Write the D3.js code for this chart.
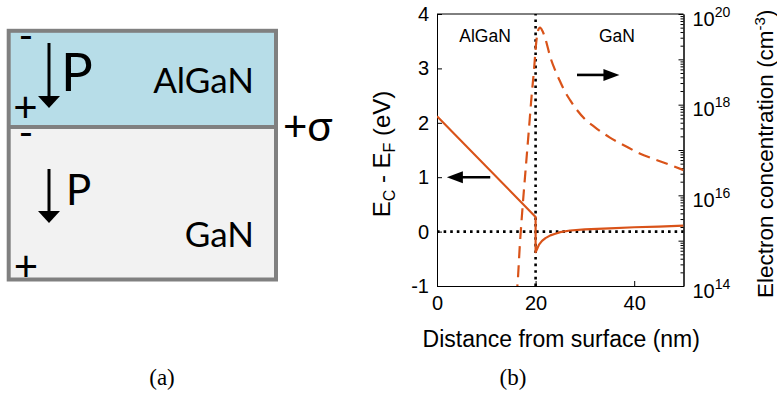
<!DOCTYPE html>
<html><head><meta charset="utf-8">
<script src="https://cdn.jsdelivr.net/npm/d3@7"></script>
<style>body{margin:0;background:#fff}svg{display:block}</style>
</head><body>
<script>
// ---------- data ----------
const xTicks = [0, 20, 40];
const yLeftTicks = [-1, 0, 1, 2, 3, 4];
const yRightLabelExps = [14, 16, 18, 20];
const interfaceX = 20;
// conduction band edge E_C - E_F (eV) vs distance (nm)
const bandX = [0, 20, 20, 20.3, 20.7, 21.3, 22, 23, 24, 25, 27, 30, 35, 40, 45, 50];
const bandE = [2.12, 0.27, -0.38, -0.32, -0.24, -0.17, -0.12, -0.07, -0.04, -0.01, 0.02, 0.04, 0.06, 0.08, 0.09, 0.11];
// electron concentration (cm^-3) vs distance (nm)
const concX = [16.0, 16.3, 16.8, 17.4, 18.0, 18.6, 19.2, 19.7, 20.1, 20.5, 20.9, 21.4, 22, 23, 24, 25, 26, 27, 28, 30, 32, 35, 38, 41, 44, 47, 50];
const concN = [6e13, 1.0e14, 7.9e14, 6.3e15, 4.0e16, 2.5e17, 1.6e18, 6.3e18, 2.2e19, 4.3e19, 5.0e19, 4.2e19, 2.8e19, 1.1e19, 5.6e18, 3.2e18, 1.9e18, 1.26e18, 8.7e17, 4.8e17, 3.2e17, 1.9e17, 1.26e17, 8.5e16, 6.3e16, 4.8e16, 3.6e16];

const orange = "#d95319";
const W = 777, H = 396;
const svg = d3.select("body").append("svg").attr("width", W).attr("height", H);
svg.append("rect").attr("width", W).attr("height", H).attr("fill", "#fff");

// ---------- panel (a) ----------
const A = svg.append("g");
const boxL = 8.7, boxR = 276, boxT = 30.8, boxB = 279.5, boxMid = 127;
A.append("rect").attr("x", boxL).attr("y", boxT).attr("width", boxR - boxL).attr("height", boxMid - boxT).attr("fill", "#b7dde8");
A.append("rect").attr("x", boxL).attr("y", boxMid).attr("width", boxR - boxL).attr("height", boxB - boxMid).attr("fill", "#f2f2f2");
A.append("rect").attr("x", boxL).attr("y", boxT).attr("width", boxR - boxL).attr("height", boxB - boxT)
  .attr("fill", "none").attr("stroke", "#808080").attr("stroke-width", 4);
A.append("line").attr("x1", boxL).attr("x2", boxR).attr("y1", boxMid).attr("y2", boxMid).attr("stroke", "#808080").attr("stroke-width", 4);

const fa = "Lato, 'Open Sans', sans-serif";
function arrowDown(x, y1, y2) {
  A.append("line").attr("x1", x).attr("x2", x).attr("y1", y1).attr("y2", y2 - 8).attr("stroke", "#000").attr("stroke-width", 3);
  A.append("path").attr("d", `M${x - 11},${y2 - 12}L${x + 11},${y2 - 12}L${x},${y2}Z`).attr("fill", "#000");
}
arrowDown(49, 43, 108);
arrowDown(49, 169, 223);
function txt(x, y, s, size, anchor) {
  return A.append("text").attr("x", x).attr("y", y).attr("font-family", fa).attr("font-size", size)
    .attr("text-anchor", anchor || "start").attr("fill", "#000").text(s);
}
txt(61, 91, "P", 53);
txt(66, 205, "P", 42);
txt(254, 93, "AlGaN", 35, "end");
txt(254, 247, "GaN", 35, "end");
txt(26, 50, "-", 40, "middle");
txt(26, 147, "-", 40, "middle");
txt(25.5, 122, "+", 42, "middle");
txt(26, 281, "+", 42, "middle");
txt(283, 141, "+σ", 42);

// captions
svg.append("text").attr("x", 162).attr("y", 385).attr("text-anchor", "middle")
  .attr("font-family", "'Liberation Serif', serif").attr("font-size", 23).text("(a)");
svg.append("text").attr("x", 513).attr("y", 385).attr("text-anchor", "middle")
  .attr("font-family", "'Liberation Serif', serif").attr("font-size", 23).text("(b)");

// ---------- panel (b) ----------
const fb = "'Liberation Sans', Arial, sans-serif";
const x = d3.scaleLinear([0, 50], [437, 683.5]);
const yL = d3.scaleLinear([-1, 4], [286, 14]);
const yR = d3.scaleLog([1e14, 1e20], [286, 14]);
const B = svg.append("g").attr("font-family", fb);

const clip = svg.append("defs").append("clipPath").attr("id", "plotclip");
clip.append("rect").attr("x", x(0)).attr("y", yL(4)).attr("width", x(50) - x(0)).attr("height", yL(-1) - yL(4));

// frame top line
B.append("line").attr("x1", x(0)).attr("x2", x(50)).attr("y1", yL(4)).attr("y2", yL(4)).attr("stroke", "#000");

// dotted reference lines
B.append("line").attr("x1", x(interfaceX)).attr("x2", x(interfaceX)).attr("y1", yL(-1)).attr("y2", yL(4))
  .attr("stroke", "#000").attr("stroke-width", 2.6).attr("stroke-dasharray", "2.6,4");
B.append("line").attr("x1", x(0)).attr("x2", x(50)).attr("y1", yL(0)).attr("y2", yL(0))
  .attr("stroke", "#000").attr("stroke-width", 2.6).attr("stroke-dasharray", "2.6,4");

// axes
B.append("g").attr("transform", `translate(0,${yL(-1)})`)
  .call(d3.axisBottom(x).tickValues(xTicks).tickSizeInner(-5).tickSizeOuter(0).tickPadding(10).tickFormat(d => String(d)));
B.append("g").attr("transform", `translate(${x(0)},0)`)
  .call(d3.axisLeft(yL).tickValues(yLeftTicks).tickSizeInner(-5).tickSizeOuter(0).tickPadding(8).tickFormat(d => String(d)));
const minorVals = [];
for (let e = 14; e < 20; e++) for (let m = 2; m <= 9; m++) minorVals.push(m * Math.pow(10, e));
const decadeVals = d3.range(14, 21).map(e => Math.pow(10, e));
B.append("g").attr("transform", `translate(${x(50)},0)`)
  .call(d3.axisRight(yR).tickValues(minorVals).tickSizeInner(-3).tickSizeOuter(0).tickFormat(() => ""));
const axR = B.append("g").attr("transform", `translate(${x(50)},0)`)
  .call(d3.axisRight(yR).tickValues(decadeVals).tickSizeInner(-5).tickSizeOuter(0).tickPadding(9).tickFormat(() => ""));
axR.selectAll(".tick text").each(function (d) {
  const e = Math.round(Math.log10(d));
  if (!yRightLabelExps.includes(e)) return;
  const t = d3.select(this).attr("dy", 11).attr("y", null);
  t.append("tspan").text("10");
  t.append("tspan").attr("dy", -9).attr("font-size", 14).text(String(e));
});
B.selectAll(".tick text").attr("font-size", 20).attr("font-family", fb).attr("fill", "#000");
axR.selectAll(".tick text tspan:last-child").attr("font-size", 14);
B.selectAll(".domain").attr("stroke", "#000");
B.selectAll(".tick line").attr("stroke", "#000");

// data lines
const gData = B.append("g").attr("clip-path", "url(#plotclip)");
gData.append("path").datum(concX.map((d, i) => [d, concN[i]]))
  .attr("d", d3.line().x(d => x(d[0])).y(d => yR(d[1])).curve(d3.curveMonotoneX))
  .attr("fill", "none").attr("stroke", orange).attr("stroke-width", 2.2).attr("stroke-dasharray", "12,7");
gData.append("path").datum(bandX.map((d, i) => [d, bandE[i]]))
  .attr("d", d3.line().x(d => x(d[0])).y(d => yL(d[1])))
  .attr("fill", "none").attr("stroke", orange).attr("stroke-width", 2.2).attr("stroke-linejoin", "round");

// annotation arrows
function arrowH(x1, x2, y) {
  const dir = Math.sign(x2 - x1);
  B.append("line").attr("x1", x1).attr("x2", x2 - dir * 12).attr("y1", y).attr("y2", y).attr("stroke", "#000").attr("stroke-width", 2.6);
  B.append("path").attr("d", `M${x2},${y}L${x2 - dir * 16},${y - 6}L${x2 - dir * 16},${y + 6}Z`).attr("fill", "#000");
}
arrowH(x(10.8), x(2.0), yL(1));
arrowH(x(28.4), x(37.0), yL(2.88));

// in-plot labels
B.append("text").attr("x", x(9.75)).attr("y", yL(3.49)).attr("text-anchor", "middle").attr("font-size", 17.5).text("AlGaN");
B.append("text").attr("x", x(36.5)).attr("y", yL(3.49)).attr("text-anchor", "middle").attr("font-size", 17.5).text("GaN");

// axis titles
B.append("text").attr("x", (x(0) + x(50)) / 2 + 1).attr("y", 347).attr("text-anchor", "middle").attr("font-size", 23).text("Distance from surface (nm)");
const tl = B.append("text").attr("transform", `translate(390,${154}) rotate(-90)`).attr("text-anchor", "middle").attr("font-size", 24);
tl.append("tspan").text("E");
tl.append("tspan").attr("dy", 5).attr("font-size", 16).text("C");
tl.append("tspan").attr("dy", -5).text(" - E");
tl.append("tspan").attr("dy", 5).attr("font-size", 16).text("F");
tl.append("tspan").attr("dy", -5).text(" (eV)");
const tr = B.append("text").attr("transform", `translate(773,${298}) rotate(-90)`).attr("text-anchor", "start").attr("font-size", 22.5);
tr.append("tspan").text("Electron concentration (cm");
tr.append("tspan").attr("dy", -8).attr("font-size", 15).text("-3");
tr.append("tspan").attr("dy", 8).text(")");
</script>
</body></html>
